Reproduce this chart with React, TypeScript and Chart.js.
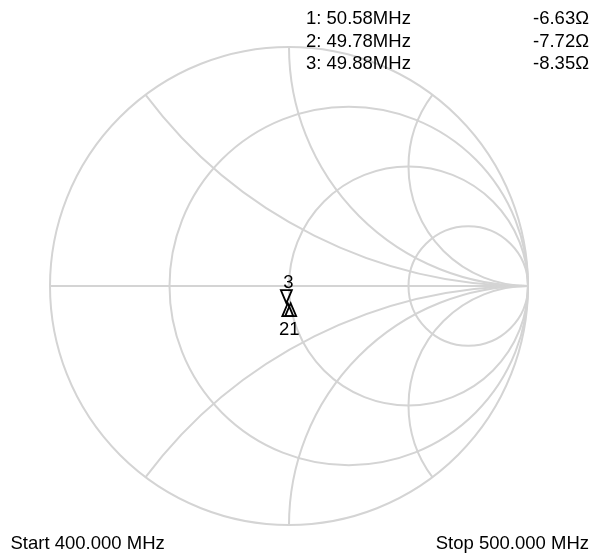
import { useEffect, useRef } from "react";
import { Chart, registerables } from "chart.js";

Chart.register(...registerables);

// Smith chart grid values (normalised)
const resistanceCircles = [0, 1 / 3, 1, 3];
const reactanceArcs = [0.5, 1, 2];

// Markers (reflection coefficient)
const markerIds = ["1", "2", "3"];
const markerFreqText = ["50.58MHz", "49.78MHz", "49.88MHz"];
const markerValueText = ["-6.63Ω", "-7.72Ω", "-8.35Ω"];
const markerRe = [0.007, -0.005, -0.011];
const markerIm = [-0.072, -0.072, -0.072];
const markerDir = ["up", "up", "down"];

const startLabel = "Start 400.000 MHz";
const stopLabel = "Stop 500.000 MHz";

const FONT = '18.5px "Liberation Sans", Arial, sans-serif';
const GRID = "rgb(212,212,212)";

const smithGrid = {
  id: "smithGrid",
  beforeDatasetsDraw(chart: any) {
    const xs = chart.scales.x;
    const ys = chart.scales.y;
    const ctx = chart.ctx as CanvasRenderingContext2D;
    const px = (v: number) => xs.getPixelForValue(v);
    const py = (v: number) => ys.getPixelForValue(v);
    const unit = px(1) - px(0);
    ctx.save();
    ctx.strokeStyle = GRID;
    ctx.lineWidth = 2;
    // resistance circles
    for (const r of resistanceCircles) {
      const c = r / (r + 1);
      const rad = (1 / (r + 1)) * unit;
      ctx.beginPath();
      ctx.arc(px(c), py(0), rad, 0, Math.PI * 2);
      ctx.stroke();
    }
    // real axis
    ctx.beginPath();
    ctx.moveTo(px(-1), py(0));
    ctx.lineTo(px(1), py(0));
    ctx.stroke();
    // reactance arcs
    for (const x of reactanceArcs) {
      const rad = (1 / x) * unit;
      const dx = -2 / (x * x + 1);
      const dy = (x * x - 1) / (x * (x * x + 1));
      let a2 = Math.atan2(-dy, dx);
      if (a2 < Math.PI / 2) a2 += Math.PI * 2;
      ctx.beginPath();
      ctx.arc(px(1), py(1 / x), rad, Math.PI / 2, a2, false);
      ctx.stroke();
      ctx.beginPath();
      ctx.arc(px(1), py(-1 / x), rad, -Math.PI / 2, -a2, true);
      ctx.stroke();
    }
    ctx.restore();
  },
};

const markerPlugin = {
  id: "markerPlugin",
  afterDatasetsDraw(chart: any) {
    const ctx = chart.ctx as CanvasRenderingContext2D;
    const meta = chart.getDatasetMeta(0);
    const pts = meta.data.map((el: any, i: number) => ({
      x: el.x,
      y: el.y,
      id: markerIds[i],
      dir: markerDir[i],
    }));
    ctx.save();
    ctx.strokeStyle = "#000";
    ctx.lineWidth = 1.8;
    const w = 5.5;
    const h = 13;
    for (const p of pts) {
      ctx.beginPath();
      if (p.dir === "down") {
        ctx.moveTo(p.x - w, p.y - h);
        ctx.lineTo(p.x + w, p.y - h);
        ctx.lineTo(p.x, p.y);
      } else {
        ctx.moveTo(p.x - w, p.y + h);
        ctx.lineTo(p.x + w, p.y + h);
        ctx.lineTo(p.x, p.y);
      }
      ctx.closePath();
      ctx.stroke();
    }
    ctx.fillStyle = "#000";
    ctx.font = FONT;
    ctx.textAlign = "center";
    ctx.textBaseline = "alphabetic";
    for (const dir of ["up", "down"]) {
      const group = pts.filter((p: any) => p.dir === dir).sort((a: any, b: any) => a.x - b.x);
      if (!group.length) continue;
      const label = group.map((p: any) => p.id).join("");
      const mx = group.reduce((s: number, p: any) => s + p.x, 0) / group.length;
      const my = group[0].y;
      if (dir === "down") ctx.fillText(label, mx + 2, my - 15.5);
      else ctx.fillText(label, mx, my + 32);
    }
    ctx.restore();
  },
};

const textPlugin = {
  id: "textPlugin",
  afterDraw(chart: any) {
    const ctx = chart.ctx as CanvasRenderingContext2D;
    ctx.save();
    ctx.fillStyle = "#000";
    ctx.font = FONT;
    ctx.textBaseline = "alphabetic";
    markerIds.forEach((id, i) => {
      const y = 24 + i * 22.5;
      ctx.textAlign = "left";
      ctx.fillText(`${id}: ${markerFreqText[i]}`, 306, y);
      ctx.textAlign = "right";
      ctx.fillText(markerValueText[i], 589, y);
    });
    ctx.textAlign = "left";
    ctx.fillText(startLabel, 10.5, 549);
    ctx.textAlign = "right";
    ctx.fillText(stopLabel, 589, 549);
    ctx.restore();
  },
};

export default function App() {
  const ref = useRef<HTMLCanvasElement>(null);
  useEffect(() => {
    if (!ref.current) return;
    const chart = new Chart(ref.current, {
      type: "scatter",
      data: {
        datasets: [
          {
            data: markerRe.map((re, i) => ({ x: re, y: markerIm[i] })),
            pointRadius: 0,
            showLine: false,
          },
        ],
      },
      options: {
        responsive: false,
        animation: false,
        layout: { padding: { left: 50, right: 70, top: 47, bottom: 31 } },
        scales: {
          x: { type: "linear", min: -1, max: 1, display: false },
          y: { type: "linear", min: -1, max: 1, display: false },
        },
        plugins: { legend: { display: false }, tooltip: { enabled: false } },
      },
      plugins: [smithGrid, markerPlugin, textPlugin],
    } as any);
    return () => chart.destroy();
  }, []);
  return (
    <div style={{ position: "fixed", left: 0, top: 0, width: 598, height: 556, background: "#fff" }}>
      <canvas ref={ref} width={598} height={556} style={{ display: "block" }} />
    </div>
  );
}
